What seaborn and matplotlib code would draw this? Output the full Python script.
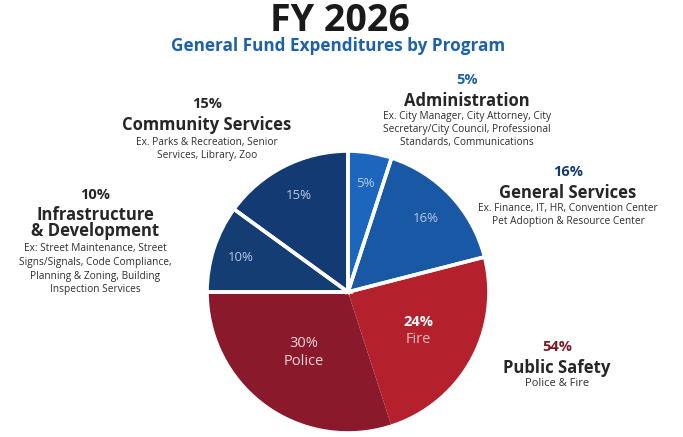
import matplotlib
matplotlib.use("Agg")
import matplotlib.pyplot as plt
import seaborn as sns
import numpy as np

# Program shares of the general fund (clockwise from 12 o'clock)
programs = ["Administration", "General Services", "Fire", "Police",
            "Infrastructure & Development", "Community Services"]
shares = [5, 16, 24, 30, 10, 15]
inner_labels = ["5%", "16%", "24%\nFire", "30%\nPolice", "10%", "15%"]

# Fire and Police roll up into Public Safety for the outlined groups
groups = ["Administration", "General Services", "Public Safety",
          "Infrastructure & Development", "Community Services"]
group_shares = [5, 16, 54, 10, 15]

sns.set_theme(style="white")
plt.rcParams["font.family"] = ["Open Sans", "DejaVu Sans"]

slice_colors = ["#1c66bd", "#1858a5", "#b4202b", "#8a1a2b", "#143d74", "#133a73"]
label_colors = ["#b9c9e6", "#b9c9e6", "#ffffff", "#f0d4d8", "#b9c9e6", "#b9c9e6"]
label_radius = [0.78, 0.76, 0.57, 0.53, 0.80, 0.77]

W, H = 683, 437
fig = plt.figure(figsize=(W / 100, H / 100), dpi=100)
ax = fig.add_axes([0, 0, 1, 1])

cx, cy, R = 348, H - 292, 141

wedges, _ = ax.pie(shares, colors=slice_colors, startangle=90, counterclock=False,
                   center=(cx, cy), radius=R, frame=True,
                   wedgeprops=dict(linewidth=0))
# white separators between program groups
ax.pie(group_shares, colors=["none"] * len(group_shares), startangle=90,
       counterclock=False, center=(cx, cy), radius=R, frame=True,
       wedgeprops=dict(linewidth=2.6, edgecolor="white", fill=False))
ax.set_xlim(0, W)
ax.set_ylim(0, H)
ax.set_aspect("equal")
ax.axis("off")

for w, lab, col, rf in zip(wedges, inner_labels, label_colors, label_radius):
    mid = np.deg2rad((w.theta1 + w.theta2) / 2)
    x = cx + rf * R * np.cos(mid)
    y = cy + rf * R * np.sin(mid)
    lines = lab.split("\n")
    if len(lines) == 1:
        ax.text(x, y, lines[0], ha="center", va="center", fontsize=9.5, color=col)
    else:
        ax.text(x, y + 9, lines[0], ha="center", va="center", fontsize=10.5, color=col,
                fontweight="bold" if col == "#ffffff" else "normal")
        ax.text(x, y - 9, lines[1], ha="center", va="center", fontsize=10.5,
                color="#f2b8bc" if col == "#ffffff" else col)

def py(v):
    return H - v

ax.text(340, py(21), "FY 2026", ha="center", va="center", fontsize=27,
        fontweight="bold", color="#1a1a1a")
ax.text(338, py(46), "General Fund Expenditures by Program", ha="center", va="center",
        fontsize=12.3, fontweight="bold", color="#1d62a8")

dark = "#262626"
desc = "#2e2e2e"

def block(x, y_pct, pct, pct_color, title_lines, desc_lines, desc_top,
          t_gap=21, t_step=17):
    ax.text(x, py(y_pct), pct, ha="center", va="center", fontsize=10.5,
            fontweight="bold", color=pct_color)
    for i, t in enumerate(title_lines):
        ax.text(x, py(y_pct + t_gap + t_step * i), t, ha="center", va="center",
                fontsize=12, fontweight="bold", color=dark)
    for i, t in enumerate(desc_lines):
        ax.text(x, py(desc_top + 13.5 * i), t, ha="center", va="center",
                fontsize=7.3, color=desc)

block(207, 104, "15%", dark, ["Community Services"],
      ["Ex. Parks & Recreation, Senior", "Services, Library, Zoo"], 142)
block(95, 195, "10%", dark, ["Infrastructure", "& Development"],
      ["Ex: Street Maintenance, Street", "Signs/Signals, Code Compliance,",
       "Planning & Zoning, Building", "Inspection Services"], 249,
      t_gap=20, t_step=16.5)
block(467, 80, "5%", "#1d62a8", ["Administration"],
      ["Ex. City Manager, City Attorney, City", "Secretary/City Council, Professional",
       "Standards, Communications"], 116)
block(568, 172, "16%", "#163a6b", ["General Services"],
      ["Ex. Finance, IT, HR, Convention Center", "Pet Adoption & Resource Center"], 208)
block(557, 347, "54%", "#7a1a26", ["Public Safety"], [], 0)
ax.text(557, py(383), "Police & Fire", ha="center", va="center", fontsize=8, color=desc)

fig.savefig("out.png", dpi=100)
